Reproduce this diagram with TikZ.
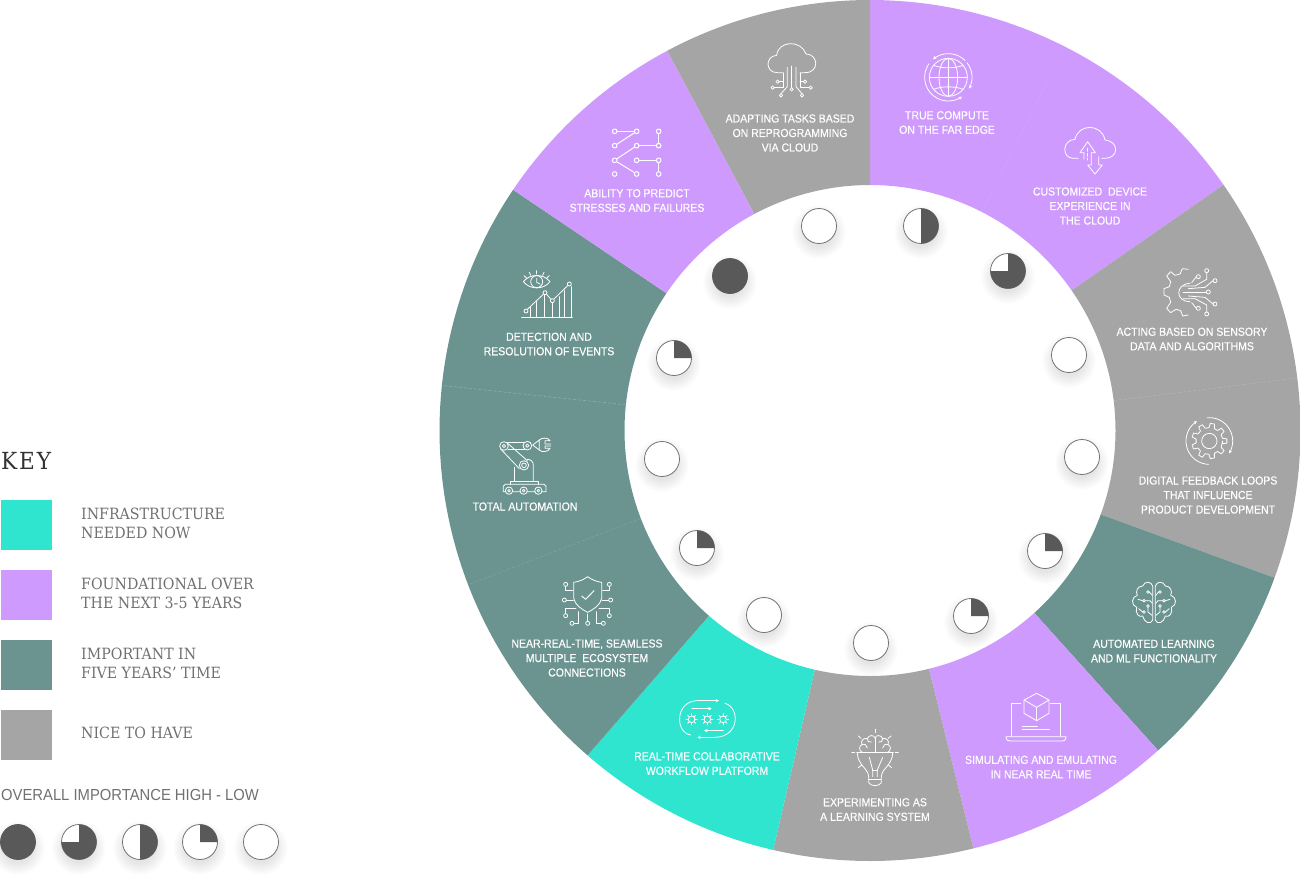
\documentclass[tikz,border=0pt]{standalone}
\usepackage{fontspec}
\usetikzlibrary{arrows.meta}
\setmainfont{Liberation Sans}
\newfontfamily\labfont[FakeStretch=0.905,FakeBold=0.25]{Liberation Sans}
\newfontfamily\legfont[FakeStretch=0.925]{Liberation Sans}
\newfontfamily\slabfont[FakeStretch=0.915]{DejaVu Serif}
\newfontfamily\keyfont[FakeStretch=0.92,LetterSpace=8]{DejaVu Serif}
\definecolor{turq}{HTML}{30E5D0}
\definecolor{purp}{HTML}{CF9AFD}
\definecolor{tealg}{HTML}{6B9491}
\definecolor{grayc}{HTML}{A5A5A5}
\definecolor{darkc}{HTML}{595959}
\definecolor{keytxt}{HTML}{707070}
\tikzset{
  lab/.style={text=white,align=center,inner sep=0pt,font=\labfont\fontsize{11.6}{14.5}\selectfont},
  keylab/.style={text=keytxt,align=left,anchor=west,inner sep=0pt,font=\slabfont\fontsize{15.5}{19}\selectfont},
  swatch/.style={anchor=north west,minimum width=51pt,minimum height=50pt,inner sep=0pt,outer sep=0pt},
  hb/.style={circle,minimum size=35pt,inner sep=0pt,draw=#1,line width=.8pt},
  hb/.default=darkc,
  ic/.style={white,line width=.8pt,line cap=round,line join=round},
  tip/.style={-{Stealth[length=3.4pt,width=3.4pt]}},
  z/.style args={#1/#2}{shift={(#1,#2)},scale=.33333}
}
\newcommand\Seg[3]{\fill[#1] plot[domain=#2:#3,samples=90] ({870+430.5*cos(\x)},{430.5-430.5*sin(\x)}) -- plot[domain=#3:#2,samples=70] ({870+245.5*cos(\x)},{430.5-245.5*sin(\x)}) -- cycle;}
\newcommand\Faint[2]{\draw[white,opacity=#2,line width=.5pt,dash pattern=on 3pt off 2pt] ({870+245.5*cos(#1)},{430.5-245.5*sin(#1)}) -- ({870+430.5*cos(#1)},{430.5-430.5*sin(#1)});}
\newcommand\Arc[6][]{\draw[#1] plot[domain=#5:#6,samples=40] ({#2+#4*cos(\x)},{#3-#4*sin(\x)});}
% Harvey ball: name, x, y, level (0 none,1 quarter,2 half,3 three-quarter,4 full)
\newcommand\Ball[4]{%
  \foreach \r in {27,26,...,15}{\fill[black,opacity=.007] (#2,#3+6) circle[radius=\r];}
  \ifnum#4=4
    \node[hb=darkc,fill=darkc] (#1) at (#2,#3) {};
  \else
    \node[hb=darkc!85!white,fill=white] (#1) at (#2,#3) {};
    \ifnum#4=1 \fill[darkc] (#2,#3) -- plot[domain=90:0,samples=20] ({#2+17.5*cos(\x)},{#3-17.5*sin(\x)}) -- cycle;\fi
    \ifnum#4=2 \fill[darkc] (#2,#3-17.5) -- plot[domain=90:-90,samples=40] ({#2+17.5*cos(\x)},{#3-17.5*sin(\x)}) -- cycle;\fi
    \ifnum#4=3 \fill[darkc] (#2,#3) -- plot[domain=90:-180,samples=60] ({#2+17.5*cos(\x)},{#3-17.5*sin(\x)}) -- cycle;\fi
  \fi}
\newcommand\Gear[5]{%
  \pgfmathsetmacro\gst{360/#5}
  \draw ([shift={(#1,#2)}]0:#3) \foreach \i in {1,...,#5}{
    -- ([shift={(#1,#2)}]{\i*\gst-.3*\gst}:#3)
    -- ([shift={(#1,#2)}]{\i*\gst-.17*\gst}:#4)
    -- ([shift={(#1,#2)}]{\i*\gst+.17*\gst}:#4)
    -- ([shift={(#1,#2)}]{\i*\gst+.3*\gst}:#3)} -- cycle;}
\newcommand\Sun[2]{%
  \draw (#1,#2) circle[radius=10];
  \foreach \a in {0,45,...,315}{\draw ([shift={(#1,#2)}]\a:10) -- ([shift={(#1,#2)}]\a:17);}}
\begin{document}
\begin{tikzpicture}[x=1pt,y=-1pt]
\useasboundingbox (0,0) rectangle (1300,881);
% ring
\Seg{purp}{34.8}{90}
\Seg{grayc}{-20}{34.8}
\Seg{tealg}{-48}{-20}
\Seg{purp}{-76.1}{-48}
\Seg{grayc}{-103}{-76.1}
\Seg{turq}{-131}{-103}
\Seg{tealg}{-214}{-131}
\Seg{purp}{118.1}{146}
\Seg{grayc}{90}{118.1}
\Faint{63}{.1}\Faint{7}{.2}\Faint{174}{.28}\Faint{201}{.15}
% labels
\node[lab] (t1) at (947,122.5) {TRUE COMPUTE\\ON THE FAR EDGE};
\node[lab] (t2) at (1090,206) {CUSTOMIZED\ \ DEVICE\\EXPERIENCE IN\\THE CLOUD};
\node[lab] (t3) at (1192,339) {ACTING BASED ON SENSORY\\DATA AND ALGORITHMS};
\node[lab] (t4) at (1208,495) {DIGITAL FEEDBACK LOOPS\\THAT INFLUENCE\\PRODUCT DEVELOPMENT};
\node[lab] (t5) at (1154,651) {AUTOMATED LEARNING\\AND ML FUNCTIONALITY};
\node[lab] (t6) at (1041,767) {SIMULATING AND EMULATING\\IN NEAR REAL TIME};
\node[lab] (t7) at (875,809.5) {EXPERIMENTING AS\\A LEARNING SYSTEM};
\node[lab] (t8) at (707,763.5) {REAL-TIME COLLABORATIVE\\WORKFLOW PLATFORM};
\node[lab] (t9) at (587,658) {NEAR-REAL-TIME, SEAMLESS\\MULTIPLE\ \ ECOSYSTEM\\CONNECTIONS};
\node[lab] (t10) at (525,506.5) {TOTAL AUTOMATION};
\node[lab] (t11) at (549,344) {DETECTION AND\\RESOLUTION OF EVENTS};
\node[lab] (t12) at (637,200.5) {ABILITY TO PREDICT\\STRESSES AND FAILURES};
\node[lab] (t13) at (790,133) {ADAPTING TASKS BASED\\ON REPROGRAMMING\\VIA CLOUD};
% balls
\Ball{b1}{819}{226}{0}
\Ball{b2}{921}{226}{2}
\Ball{b3}{1008}{271}{3}
\Ball{b4}{1069}{355}{0}
\Ball{b5}{1082}{457}{0}
\Ball{b6}{1045}{551}{1}
\Ball{b7}{971}{616}{1}
\Ball{b8}{871}{643}{0}
\Ball{b9}{764}{615}{0}
\Ball{b10}{697}{548}{1}
\Ball{b11}{662}{459}{0}
\Ball{b12}{674}{358}{1}
\Ball{b13}{730}{276}{4}
% ---- icons ----
% globe
\begin{scope}[ic,z=860/0]
  \draw (265,232) circle[radius=57];
  \draw (265,232) ellipse[x radius=28,y radius=57];
  \draw (265,175) -- (265,289);
  \draw (208,232) -- (322,232);
  \draw (221,196) .. controls (245,206) and (285,206) .. (309,196);
  \draw (221,268) .. controls (245,258) and (285,258) .. (309,268);
  \Arc[tip]{265}{232}{71}{45}{130}
  \Arc[tip]{265}{232}{71}{145}{305}
  \Arc[tip]{265}{232}{71}{38}{-28}
\end{scope}
% cloud with arrows
\begin{scope}[ic,z=860/0]
  \draw (655,475) -- (640,475) .. controls (605,475) and (605,420) .. (645,418) .. controls (655,370) and (725,370) .. (735,420) .. controls (780,425) and (775,475) .. (735,475) -- (725,475);
  \draw (672,478) -- (672,458) -- (660,458) -- (683,425) -- (706,458) -- (694,458) -- (694,495);
  \draw (694,495) -- (683,495) -- (705,522) -- (727,495) -- (716,495) -- (716,470);
  \draw[dash pattern=on 3pt off 2pt] (683,445) -- (683,480);
\end{scope}
% half gear with circuit
\begin{scope}[ic,z=860/0]
  \draw (985,808) -- (967,806) -- (960,822) -- (945,826) -- (932,815) -- (920,828) -- (932,845) -- (928,860) -- (912,866) -- (912,885) -- (928,892) -- (932,907) -- (920,925) -- (932,938) -- (948,928) -- (962,932) -- (968,948) -- (985,945);
  \draw (990,850) .. controls (945,852) and (945,905) .. (990,905);
  \foreach \a/\b in {1040/812,1015/830,1065/842,1045/876,1065/912,1015/925,1040/942}{\draw (\a,\b) circle[radius=6];}
  \draw (1040,818) -- (1040,838) -- (1005,858) -- (970,858);
  \draw (1009,830) -- (995,848);
  \draw (1059,842) -- (1035,862) -- (985,866);
  \draw (1039,876) -- (970,876);
  \draw (1059,912) -- (1035,892) -- (985,888);
  \draw (1009,925) -- (995,908);
  \draw (1040,936) -- (1040,915) -- (1005,896) -- (970,896);
\end{scope}
% cloud with circuit
\begin{scope}[ic,z=500/30]
  \draw (850,128) -- (832,128) .. controls (795,128) and (795,78) .. (830,76) .. controls (835,30) and (905,30) .. (918,72) .. controls (955,72) and (960,128) .. (915,128) -- (900,128);
  \foreach \a/\b in {818/173,843/196,875/178,906/196,932/173,833/155,915/155}{\draw (\a,\b) circle[radius=5];}
  \draw (823,173) -- (850,173) -- (850,130);
  \draw (843,191) -- (862,170) -- (862,112);
  \draw (875,173) -- (875,108);
  \draw (906,191) -- (888,170) -- (888,112);
  \draw (927,173) -- (900,173) -- (900,130);
  \draw (838,155) -- (850,155);
  \draw (910,155) -- (900,155);
\end{scope}
% nodes network
\begin{scope}[ic,line width=1pt,z=500/30]
  \foreach \a in {344,410,476}{\foreach \b in {304,347,391,432}{\draw (\a,\b) circle[radius=7];}}
  \draw (351,304) -- (403,304);
  \draw (350,343) -- (404,308);
  \draw (417,347) -- (469,347);
  \draw (476,311) -- (476,340);
  \draw (350,387) -- (404,351);
  \draw (350,395) -- (404,428);
  \draw (417,391) -- (469,391);
  \draw (476,398) -- (476,425);
\end{scope}
% eye and chart
\begin{scope}[ic,z=500/30]
  \draw (70,755) .. controls (90,730) and (130,730) .. (150,755) .. controls (130,780) and (90,780) .. (70,755) -- cycle;
  \draw (110,755) circle[radius=18];
  \draw (110,745) -- (110,757) -- (120,762);
  \foreach \a/\b/\c/\d in {72/737/80/744,88/727/92/736,110/722/110/732,132/727/128/736,148/737/140/744}{\draw (\a,\b) -- (\c,\d);}
  \draw (65,863) -- (217,863);
  \draw (82,838) -- (130,793);
  \draw (140,793) -- (152,807);
  \draw (162,807) -- (203,767);
  \foreach \a/\b in {78/843,135/788,157/812,208/762}{\draw (\a,\b) circle[radius=6];}
  \foreach \a/\b in {90/832,110/815,133/795,157/820,178/800,194/782,213/770}{\draw (\a,\b) -- (\a,863);}
\end{scope}
% robot arm
\begin{scope}[ic,z=440/350]
  \draw (196,403) -- (312,403) -- (318,408) -- (318,425) -- (190,425) -- (190,408) -- cycle;
  \foreach \a in {207,251,295}{\fill[tealg] (\a,422) circle[radius=11]; \draw (\a,422) circle[radius=11]; \draw (\a,422) circle[radius=4];}
  \draw (212,403) -- (212,393) -- (295,393) -- (295,403);
  \draw (224,393) -- (224,352);
  \draw (280,393) -- (280,345) .. controls (280,335) and (272,328) .. (262,328);
  \draw (182,297) -- (238,356);
  \draw (202,279) -- (262,332);
  \draw (252,346) circle[radius=14];
  \draw (252,346) circle[radius=7];
  \draw (200,277) -- (255,277);
  \draw (205,297) -- (255,297);
  \draw (192,288) circle[radius=13];
  \draw (192,288) circle[radius=5];
  \draw (262,287) circle[radius=13];
  \draw (262,287) circle[radius=5];
  \draw (278,285) -- (298,270) -- (298,300) -- cycle;
  \draw (298,270) .. controls (305,262) and (325,262) .. (330,272) -- (315,272) -- (315,282) -- (332,282);
  \draw (298,300) .. controls (305,308) and (325,306) .. (330,295) -- (315,295) -- (315,288) -- (332,288);
\end{scope}
% shield
\begin{scope}[ic,z=440/350]
  \draw (443,680) .. controls (430,690) and (415,695) .. (401,697) -- (401,745) .. controls (405,765) and (425,778) .. (443,787) .. controls (461,778) and (481,765) .. (485,745) -- (485,697) .. controls (471,695) and (456,690) .. (443,680) -- cycle;
  \draw[line width=1pt] (425,738) -- (437,748) -- (462,722);
  \foreach \a/\b in {377/703,508/703,373/750,512/750,377/797,508/797,396/820,490/820,443/820}{\draw (\a,\b) circle[radius=6];}
  \draw (377,709) -- (377,722) -- (398,722);
  \draw (508,709) -- (508,722) -- (488,722);
  \draw (379,750) -- (400,750);
  \draw (506,750) -- (486,750);
  \draw (377,791) -- (377,775) -- (408,775);
  \draw (508,791) -- (508,775) -- (477,775);
  \draw (402,820) -- (416,820) -- (416,785);
  \draw (484,820) -- (468,820) -- (468,785);
  \draw (443,814) -- (443,792);
\end{scope}
% workflow loop
\begin{scope}[ic,z=600/600]
  \draw[tip] (290,302) -- (357,302);
  \draw (290,302) .. controls (225,305) and (225,398) .. (272,405);
  \draw (375,310) .. controls (420,322) and (420,410) .. (345,412);
  \draw[tip] (345,412) -- (292,412);
  \draw[tip] (276,326) -- (335,326);
  \draw[tip] (370,392) -- (312,392);
  \Sun{275}{358}\Sun{322}{358}\Sun{369}{358}
\end{scope}
% brain bulb
\begin{scope}[ic,z=600/600]
  \draw (770,458) -- (880,458);
  \draw (772,458) .. controls (772,495) and (805,505) .. (806,530) -- (806,548) .. controls (812,560) and (838,560) .. (844,548) -- (844,530) .. controls (845,505) and (878,495) .. (878,458);
  \draw (806,537) -- (844,537);
  \draw (808,472) -- (818,510) -- (818,530);
  \draw (848,472) -- (832,510) -- (832,530);
  \draw (818,510) -- (832,510);
  \draw (825,414) -- (825,458);
  \draw (788,458) .. controls (776,452) and (776,438) .. (786,434) .. controls (780,422) and (792,412) .. (802,416) .. controls (806,404) and (822,404) .. (825,414) .. controls (828,404) and (844,404) .. (848,416) .. controls (858,412) and (870,422) .. (864,434) .. controls (874,438) and (874,452) .. (862,458);
  \draw (786,434) .. controls (795,430) and (800,436) .. (802,444);
  \draw (802,416) .. controls (800,424) and (808,428) .. (814,426);
  \draw (864,434) .. controls (855,430) and (850,436) .. (848,444);
  \draw (848,416) .. controls (850,424) and (842,428) .. (836,426);
  \foreach \a/\b/\c/\d in {825/388/825/398,775/408/783/415,873/408/865/415,755/458/764/458,886/458/895/458,775/503/785/495,875/503/865/495}{\draw (\a,\b) -- (\c,\d);}
\end{scope}
% laptop and cube
\begin{scope}[ic,z=930/400]
  \draw (245,1008) -- (245,910) -- (272,910);
  \draw (392,1008) -- (392,910) -- (362,910);
  \draw (228,1010) -- (408,1010) .. controls (408,1020) and (402,1023) .. (398,1023) -- (240,1023) .. controls (234,1023) and (228,1020) .. (228,1010) -- cycle;
  \draw (320,880) -- (357,900) -- (357,940) -- (320,962) -- (282,940) -- (282,900) -- cycle;
  \draw (282,900) -- (320,922) -- (357,900);
  \draw (320,922) -- (320,962);
  \draw (277,978) -- (322,978);
  \draw (277,989) -- (358,989);
\end{scope}
% brain with circuit
\begin{scope}[ic,shift={(930,400)},scale=.33333,shift={(672,608)}]
  \foreach \s in {1,-1}{
  \begin{scope}[xscale=\s]
    \draw (4,-50) .. controls (8,-64) and (28,-66) .. (34,-50) .. controls (50,-50) and (56,-34) .. (50,-22) .. controls (68,-18) and (70,8) .. (52,14) .. controls (58,32) and (44,46) .. (34,40) .. controls (30,60) and (10,68) .. (4,52) -- cycle;
    \foreach \a/\b in {18/-32,30/-6,18/10,30/28}{\draw (\a,\b) circle[radius=4];}
    \draw (14,-32) -- (5,-22);
    \draw (26,-6) -- (12,-6) -- (5,2);
    \draw (34,-6) -- (48,-10);
    \draw (18,14) -- (18,28) -- (6,38);
    \draw (34,28) -- (46,18);
  \end{scope}}
\end{scope}
% gear with loop
\begin{scope}[ic,z=930/400]
  \Gear{838}{123}{40}{53}{9}
  \draw (838,123) circle[radius=23];
  \Arc[tip]{838}{123}{70}{95}{-32}
  \Arc[tip]{838}{123}{70}{268}{122}
\end{scope}
% ---- key ----
\node[anchor=base west,inner sep=0pt,text=black!80,font=\keyfont\fontsize{23.5}{26}\selectfont] (keyt) at (1,469) {KEY};
\node[swatch,fill=turq] (k1) at (1,500) {};
\node[swatch,fill=purp] (k2) at (1,570) {};
\node[swatch,fill=tealg] (k3) at (1,640) {};
\node[swatch,fill=grayc] (k4) at (1,710) {};
\node[keylab] (l1) at (81,523.5) {INFRASTRUCTURE\\NEEDED NOW};
\node[keylab] (l2) at (81,593.5) {FOUNDATIONAL OVER\\THE NEXT 3-5 YEARS};
\node[keylab] (l3) at (81,663.5) {IMPORTANT IN\\FIVE YEARS’ TIME};
\node[keylab] (l4) at (81,733) {NICE TO HAVE};
\node[anchor=west,inner sep=0pt,text=keytxt,font=\legfont\fontsize{16}{19}\selectfont] (l5) at (1,795) {OVERALL IMPORTANCE HIGH - LOW};
\Ball{k5}{18}{842}{4}
\Ball{k6}{79}{842}{3}
\Ball{k7}{140}{842}{2}
\Ball{k8}{200}{842}{1}
\Ball{k9}{261}{842}{0}
\end{tikzpicture}
\end{document}
